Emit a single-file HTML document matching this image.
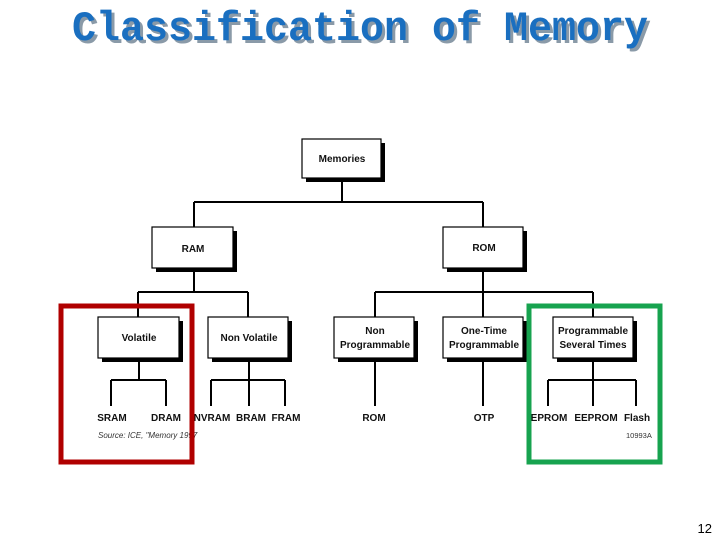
<!DOCTYPE html>
<html><head><meta charset="utf-8"><style>
html,body{margin:0;padding:0;background:#fff;width:720px;height:540px;overflow:hidden}
svg{display:block}
.t{font-family:"Liberation Sans",Arial,sans-serif;font-weight:bold;font-size:10px;fill:#111;text-anchor:middle}
</style></head><body>
<svg width="720" height="540" viewBox="0 0 720 540" xmlns="http://www.w3.org/2000/svg">
<text x="75" y="43" font-family="Liberation Mono, monospace" font-weight="bold" font-size="42" fill="#8a9aa8" textLength="576" lengthAdjust="spacingAndGlyphs">Classification of Memory</text>
<text x="72" y="40" font-family="Liberation Mono, monospace" font-weight="bold" font-size="42" fill="#1a6fc0" textLength="576" lengthAdjust="spacingAndGlyphs">Classification of Memory</text>
<g stroke="#000" stroke-width="2" fill="none">
<path d="M342 178V202M194 202H483M194 202V227M483 202V227"/>
<path d="M194 268V292M138 292H248M138 292V317M248 292V317"/>
<path d="M483 268V292M375 292H593M375 292V317M483 292V317M593 292V317"/>
<path d="M139 358V380M111 380H166M111 380V406M166 380V406"/>
<path d="M249 358V380M211 380H285M211 380V406M249 380V406M285 380V406"/>
<path d="M375 358V406M483 358V406"/>
<path d="M593 358V380M548 380H636M548 380V406M593 380V406M636 380V406"/>
</g>
<g>
<rect x="306" y="143" width="79" height="39" fill="#000"/><rect x="302" y="139" width="79" height="39" fill="#fff" stroke="#000" stroke-width="1.2"/>
<rect x="156" y="231" width="81" height="41" fill="#000"/><rect x="152" y="227" width="81" height="41" fill="#fff" stroke="#000" stroke-width="1.2"/>
<rect x="447" y="231" width="80" height="41" fill="#000"/><rect x="443" y="227" width="80" height="41" fill="#fff" stroke="#000" stroke-width="1.2"/>
<rect x="102" y="321" width="81" height="41" fill="#000"/><rect x="98" y="317" width="81" height="41" fill="#fff" stroke="#000" stroke-width="1.2"/>
<rect x="212" y="321" width="80" height="41" fill="#000"/><rect x="208" y="317" width="80" height="41" fill="#fff" stroke="#000" stroke-width="1.2"/>
<rect x="338" y="321" width="80" height="41" fill="#000"/><rect x="334" y="317" width="80" height="41" fill="#fff" stroke="#000" stroke-width="1.2"/>
<rect x="447" y="321" width="80" height="41" fill="#000"/><rect x="443" y="317" width="80" height="41" fill="#fff" stroke="#000" stroke-width="1.2"/>
<rect x="557" y="321" width="80" height="41" fill="#000"/><rect x="553" y="317" width="80" height="41" fill="#fff" stroke="#000" stroke-width="1.2"/>
</g>
<text class="t" x="342" y="162">Memories</text>
<text class="t" x="193" y="252">RAM</text>
<text class="t" x="484" y="251">ROM</text>
<text class="t" x="139" y="341">Volatile</text>
<text class="t" x="249" y="341">Non Volatile</text>
<text class="t" x="375" y="334">Non</text><text class="t" x="375" y="348">Programmable</text>
<text class="t" x="484" y="334">One-Time</text><text class="t" x="484" y="348">Programmable</text>
<text class="t" x="593" y="334">Programmable</text><text class="t" x="593" y="348">Several Times</text>
<text class="t" x="112" y="421">SRAM</text><text class="t" x="166" y="421">DRAM</text>
<text class="t" x="212" y="421">NVRAM</text><text class="t" x="251" y="421">BRAM</text><text class="t" x="286" y="421">FRAM</text>
<text class="t" x="374" y="421">ROM</text><text class="t" x="484" y="421">OTP</text>
<text class="t" x="549" y="421">EPROM</text><text class="t" x="596" y="421">EEPROM</text><text class="t" x="637" y="421">Flash</text>
<text x="98" y="438" font-family="Liberation Sans,sans-serif" font-style="italic" font-size="8" fill="#333">Source:  ICE, "Memory 1997</text>
<text x="626" y="438" font-family="Liberation Sans,sans-serif" font-size="7.5" fill="#333">10993A</text>
<rect x="61" y="306" width="131" height="156" fill="none" stroke="#b00000" stroke-width="5"/>
<rect x="529" y="306" width="131" height="156" fill="none" stroke="#17a34f" stroke-width="5"/>
<text x="712" y="533" font-family="Liberation Sans,sans-serif" font-size="13" fill="#000" text-anchor="end">12</text>
</svg>
</body></html>
